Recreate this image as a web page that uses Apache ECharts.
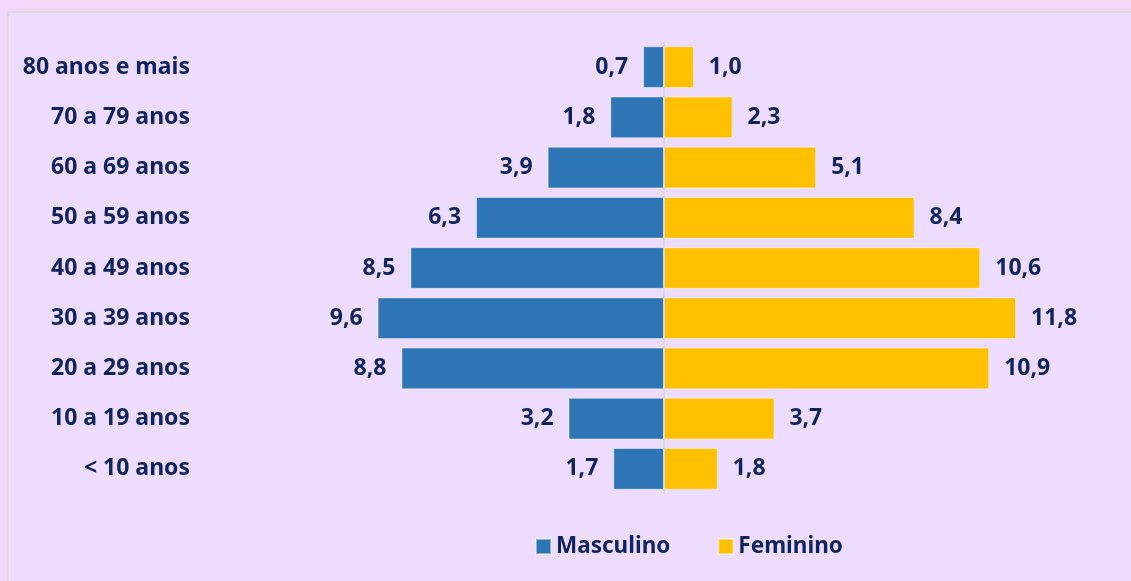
<!DOCTYPE html>
<html>
<head>
<meta charset="utf-8">
<script src="https://cdn.jsdelivr.net/npm/echarts@6/dist/echarts.min.js"></script>
<style>
  html, body { margin: 0; padding: 0; background: #F2D9FB; }
  #chart { width: 1131px; height: 581px; }
</style>
</head>
<body>
<div id="chart"></div>
<script>
// faixas etarias, de cima para baixo
var faixas = ['80 anos e mais', '70 a 79 anos', '60 a 69 anos', '50 a 59 anos', '40 a 49 anos',
  '30 a 39 anos', '20 a 29 anos', '10 a 19 anos', '< 10 anos'];
var masculino = [0.7, 1.8, 3.9, 6.3, 8.5, 9.6, 8.8, 3.2, 1.7];
var feminino = [1.0, 2.3, 5.1, 8.4, 10.6, 11.8, 10.9, 3.7, 1.8];

var navy = '#0F245F';
var fonte = '"Noto Sans", "Open Sans", sans-serif';

function fmt(v) {
  return Math.abs(v).toFixed(1).replace('.', ',');
}

var chart = echarts.init(document.getElementById('chart'));
var option = {
  backgroundColor: 'transparent',
  animation: false,
  graphic: [{
    type: 'rect',
    z: -10,
    shape: { x: 8, y: 12, width: 1140, height: 600 },
    style: { fill: '#EEDCFE', stroke: '#DCDCDC', lineWidth: 2 }
  }],
  legend: {
    data: ['Masculino', 'Feminino'],
    left: 530,
    top: 530,
    itemWidth: 15,
    itemHeight: 15,
    itemGap: 47,
    icon: 'rect',
    textStyle: { color: navy, fontWeight: 'bold', fontSize: 22.5, fontFamily: fonte }
  },
  grid: { left: 306, right: 109, top: 42, bottom: 87, containLabel: false },
  xAxis: {
    type: 'value',
    min: -12,
    max: 12,
    show: false
  },
  yAxis: {
    type: 'category',
    data: faixas,
    inverse: true,
    axisLine: { show: false },
    axisTick: { show: false },
    axisLabel: {
      margin: 116,
      color: navy,
      fontWeight: 'bold',
      fontSize: 23,
      fontFamily: fonte
    }
  },
  series: [
    {
      name: 'Masculino',
      type: 'bar',
      stack: 'pop',
      barCategoryGap: '17%',
      data: masculino.map(function (v) { return -v; }),
      itemStyle: { color: '#2E75B6', borderColor: 'rgba(255,255,255,0.45)', borderWidth: 1 },
      label: {
        show: true,
        position: 'left',
        distance: 15,
        color: navy,
        fontWeight: 'bold',
        fontSize: 23,
        fontFamily: fonte,
        formatter: function (p) { return fmt(p.value); }
      },
      markLine: {
        silent: true,
        symbol: 'none',
        label: { show: false },
        lineStyle: { color: '#D9D9D9', width: 2, type: 'solid' },
        data: [{ xAxis: 0 }]
      }
    },
    {
      name: 'Feminino',
      type: 'bar',
      stack: 'pop',
      data: feminino,
      itemStyle: { color: '#FFC000', borderColor: 'rgba(255,255,255,0.45)', borderWidth: 1 },
      label: {
        show: true,
        position: 'right',
        distance: 15,
        color: navy,
        fontWeight: 'bold',
        fontSize: 23,
        fontFamily: fonte,
        formatter: function (p) { return fmt(p.value); }
      }
    }
  ]
};
chart.setOption(option);
</script>
</body>
</html>
